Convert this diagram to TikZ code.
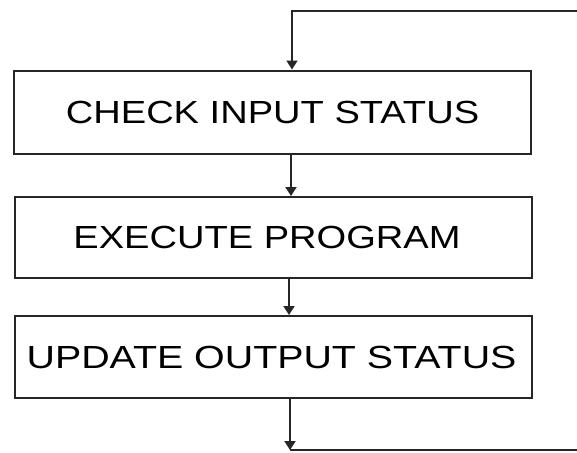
\documentclass[tikz,border=0pt]{standalone}
\usepackage{fontspec}
\setmainfont{Liberation Sans}
\usetikzlibrary{arrows.meta}
\begin{document}
\begin{tikzpicture}[x=1pt,y=-1pt,
  box/.style={draw=black!85, line width=2pt, minimum width=517pt, minimum height=83pt, inner sep=0pt, font=\fontsize{32}{34}\selectfont},
  flow/.style={draw=black!85, line width=2pt, -{Triangle[width=11pt,length=9pt]}},
  wire/.style={draw=black!85, line width=2pt}]
\useasboundingbox (0,0) rectangle (577,452);
\node[box] (b1) at (272.5,112) {\scalebox{1.19}[1]{CHECK INPUT STATUS}};
\node[box, minimum height=81pt] (b2) at (273,237.5) {\hspace*{-12pt}\scalebox{1.19}[1]{EXECUTE PROGRAM}};
\node[box, minimum height=82pt] (b3) at (273,357) {\hspace*{-3pt}\scalebox{1.23}[1]{UPDATE OUTPUT STATUS}};
\coordinate (tr) at (577,11);
\coordinate (tl) at (292,11);
\coordinate (bb) at (290,450);
\coordinate (br) at (577,450);
\draw[flow] (tr) -- (tl) -- (tl |- b1.north);
\draw[flow] (b1.south -| 291,0) -- (b2.north -| 291,0);
\draw[flow] (b2.south -| 289,0) -- (b3.north -| 289,0);
\draw[flow] (b3.south -| bb) -- (bb);
\draw[wire] (bb) -- (br);
\end{tikzpicture}
\end{document}
